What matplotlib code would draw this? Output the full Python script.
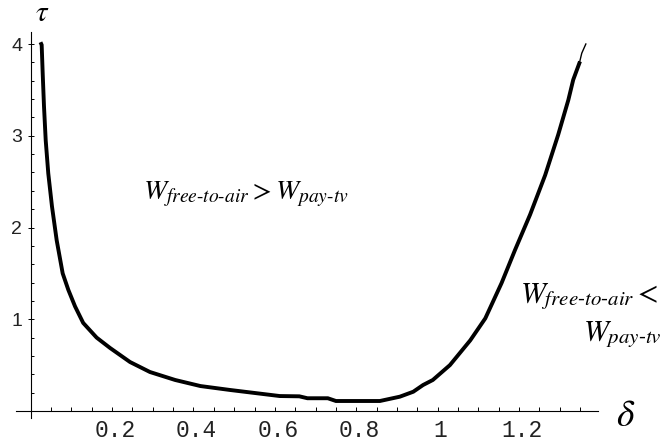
import matplotlib
matplotlib.use('Agg')
import matplotlib.pyplot as plt
from matplotlib.transforms import ScaledTranslation

plt.rcParams['mathtext.fontset'] = 'stix'

# curva de fronteira
delta = [0.026, 0.027, 0.0295, 0.0327, 0.0369, 0.0432, 0.0523, 0.0639, 0.0786,
         0.0925, 0.109, 0.129, 0.162, 0.195, 0.244, 0.293, 0.355, 0.417, 0.49,
         0.551, 0.612, 0.66, 0.68, 0.73, 0.75, 0.858, 0.907, 0.94, 0.964, 0.988,
         1.03, 1.08, 1.117, 1.157, 1.19, 1.227, 1.264, 1.296, 1.321, 1.333, 1.348]
tau = [4.0, 3.99, 3.68, 3.32, 2.95, 2.59, 2.23, 1.86, 1.50,
       1.32, 1.14, 0.96, 0.80, 0.687, 0.534, 0.425, 0.338, 0.272, 0.229,
       0.196, 0.163, 0.16, 0.139, 0.139, 0.109, 0.109, 0.156, 0.21, 0.283, 0.338,
       0.50, 0.77, 1.01, 1.395, 1.755, 2.14, 2.57, 3.01, 3.39, 3.61, 3.79]
# ponta fina no final
delta_end = [1.348, 1.354, 1.364]
tau_end = [3.79, 3.90, 4.0]

x_ticks = [0.2, 0.4, 0.6, 0.8, 1.0, 1.2]
x_labels = ['0.2', '0.4', '0.6', '0.8', '1', '1.2']
y_ticks = [1, 2, 3, 4]
y_labels = ['1', '2', '3', '4']

fig = plt.figure(figsize=(6.65, 4.45), dpi=100)
ax = fig.add_axes([0, 0, 1, 1])
ax.set_xlim(-0.0754, 1.5585)
ax.set_ylim(-0.3706, 4.4796)

ax.plot(delta, tau, color='black', lw=2.8, solid_joinstyle='miter')
ax.plot(delta_end, tau_end, color='black', lw=1.0)

# eixos cruzando na origem
for s in ['top', 'right']:
    ax.spines[s].set_visible(False)
ax.spines['left'].set_position(('data', 0))
ax.spines['bottom'].set_position(('data', 0))
ax.spines['left'].set_bounds(-0.076, 4.126)
ax.spines['bottom'].set_bounds(-0.037, 1.394)
ax.spines['left'].set_linewidth(0.8)
ax.spines['bottom'].set_linewidth(0.8)

ax.set_xticks(x_ticks)
ax.set_xticklabels(x_labels)
ax.set_xticks([i * 0.05 for i in range(1, 28) if i % 4 != 0], minor=True)
ax.set_yticks(y_ticks)
ax.set_yticklabels(y_labels)
ax.set_yticks([i * 0.2 for i in range(1, 21) if i % 5 != 0], minor=True)

ax.tick_params(axis='x', which='both', direction='in', length=3.2, width=0.7, pad=6)
ax.tick_params(axis='y', which='major', direction='inout', length=4, width=0.7, pad=4)
ax.tick_params(axis='y', which='minor', direction='in', length=2.2, width=0.7)

desloc = ScaledTranslation(3 / 100, 0, fig.dpi_scale_trans)
for tk in ax.xaxis.get_major_ticks():
    lab = tk.label1
    lab.set_fontfamily('Liberation Mono')
    lab.set_fontsize(16.5)
    lab.set_color('#222222')
    lab.set_transform(lab.get_transform() + desloc)
for lab in ax.get_yticklabels():
    lab.set_fontfamily('Liberation Sans')
    lab.set_fontsize(14)
    lab.set_color('#222222')

# rótulos dos eixos
fig.text(42 / 665, 1 - 13 / 445, r'$\tau$', fontsize=21, ha='center', va='center')
fig.text(626 / 665, 1 - 416 / 445, r'$\delta$', fontsize=27, ha='center', va='center')

# regiões
fig.text(143 / 665, 1 - 199 / 445,
         r'$W_{free\text{-}to\text{-}air} > W_{pay\text{-}tv}$',
         fontsize=20, ha='left', va='baseline')
fig.text(520 / 665, 1 - 302 / 445,
         r'$W_{free\text{-}to\text{-}air} <$',
         fontsize=21.5, ha='left', va='baseline')
fig.text(583 / 665, 1 - 340 / 445,
         r'$W_{pay\text{-}tv}$',
         fontsize=21.5, ha='left', va='baseline')

fig.savefig('out.png', dpi=100)
